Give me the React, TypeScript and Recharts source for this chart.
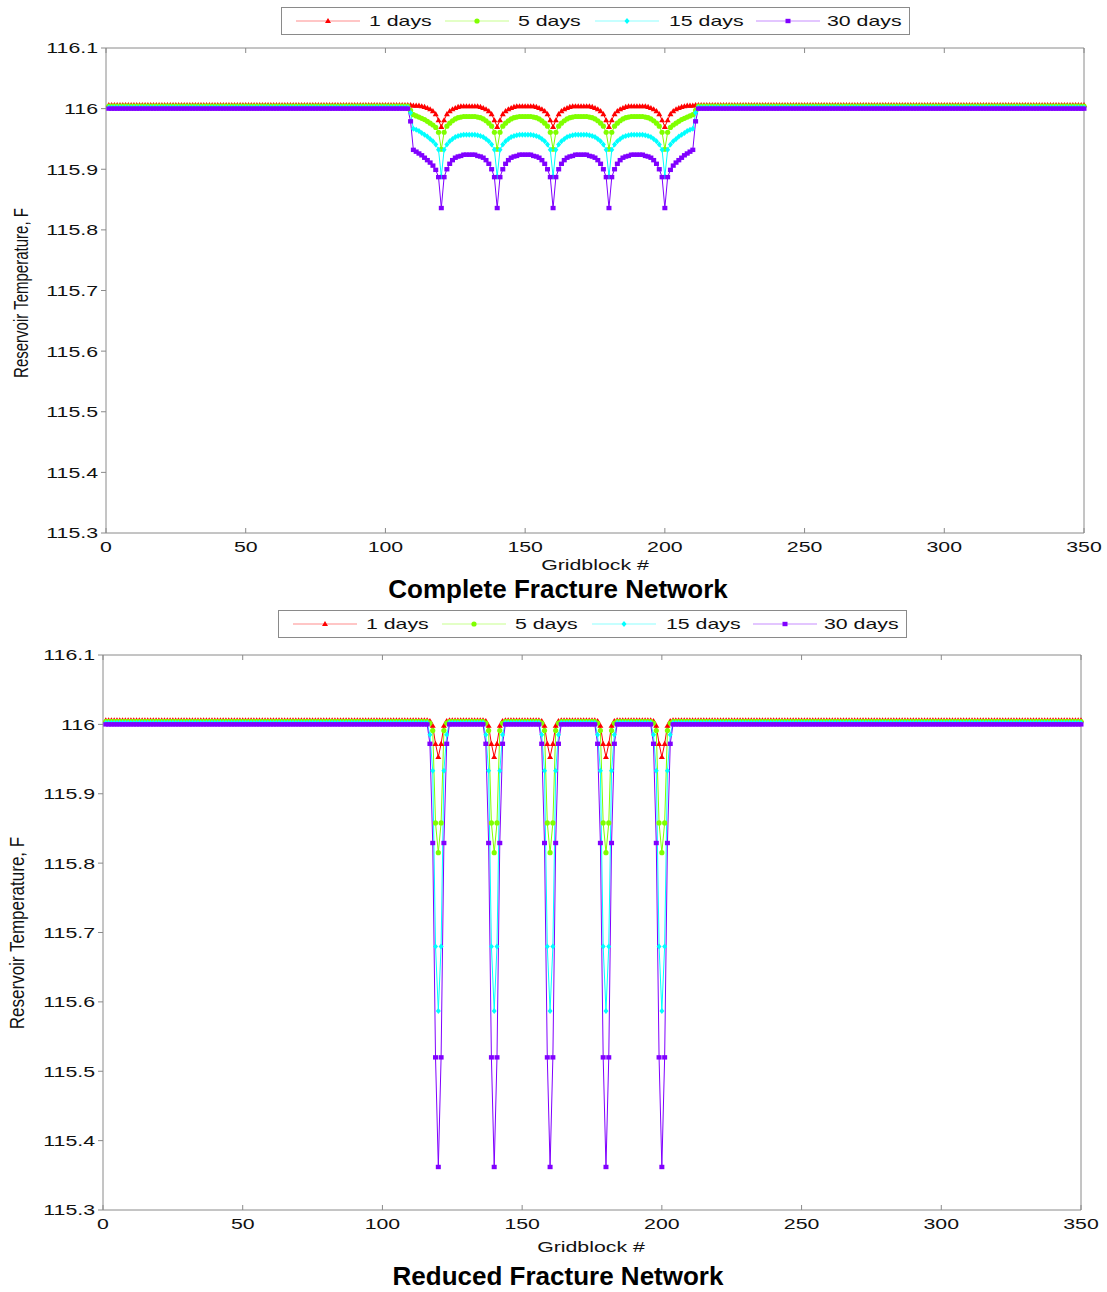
import React from 'react'
import { LineChart, Line, XAxis, YAxis } from 'recharts'

const FONT = '"Liberation Sans", Arial, Helvetica, sans-serif'
// the source figure was squeezed into the page, so its axis text looks wide
const STRETCH = 1.42

const GRIDBLOCKS = 350
const FRACTURES = [120, 140, 160, 180, 200]
const X_TICKS = [0, 50, 100, 150, 200, 250, 300, 350]
const Y_TICKS = [115.3, 115.4, 115.5, 115.6, 115.7, 115.8, 115.9, 116, 116.1]

const SERIES_KEYS = ['d1', 'd5', 'd15', 'd30']
const SERIES_NAMES = ['1 days', '5 days', '15 days', '30 days']

// undisturbed temperature of each curve (they sit a hair apart on the plot)
const PLATEAU = [116.006, 116.004, 116.002, 116.0]

// complete network: temperature vs distance to the nearest fracture, 0..10 blocks
const completeArch1 = [115.970, 115.981, 115.991, 115.996, 115.999, 116.001, 116.003, 116.004, 116.004, 116.004, 116.004]
const completeArch5 = [115.933, 115.961, 115.971, 115.976, 115.980, 115.983, 115.985, 115.986, 115.987, 115.987, 115.987]
const completeArch15 = [115.888, 115.932, 115.941, 115.946, 115.950, 115.953, 115.955, 115.956, 115.957, 115.957, 115.957]
const completeArch30 = [115.836, 115.887, 115.900, 115.909, 115.915, 115.919, 115.921, 115.922, 115.924, 115.924, 115.924]

// complete network: blocks 108..119 at the edge of the stimulated zone (mirrored on 212..201)
const completeEdge1 = [116.006, 116.006, 116.005, 116.005, 116.005, 116.004, 116.003, 116.001, 115.999, 115.996, 115.991, 115.981]
const completeEdge5 = [116.004, 115.997, 115.990, 115.988, 115.986, 115.984, 115.982, 115.979, 115.976, 115.973, 115.969, 115.961]
const completeEdge15 = [116.002, 115.993, 115.967, 115.965, 115.963, 115.960, 115.957, 115.954, 115.950, 115.946, 115.941, 115.932]
const completeEdge30 = [116.0, 115.979, 115.932, 115.929, 115.926, 115.923, 115.919, 115.915, 115.911, 115.906, 115.899, 115.887]

// reduced network: temperature vs distance to a fracture, 0..4 blocks
const reduced1 = [115.953, 115.972, 115.998, 116.005, 116.006]
const reduced5 = [115.815, 115.858, 115.991, 116.002, 116.004]
const reduced15 = [115.587, 115.680, 115.933, 115.985, 116.002]
const reduced30 = [115.362, 115.520, 115.829, 115.972, 116.0]

const COMPLETE_ARCH = [completeArch1, completeArch5, completeArch15, completeArch30]
const COMPLETE_EDGE = [completeEdge1, completeEdge5, completeEdge15, completeEdge30]
const REDUCED = [reduced1, reduced5, reduced15, reduced30]

const SERIES_STYLE = [
  { color: '#ff0000', shape: 'triangle' },
  { color: '#80ff00', shape: 'circle' },
  { color: '#00ffff', shape: 'diamond' },
  { color: '#8000ff', shape: 'square' },
]

const nearestFracture = (gb: number) => Math.min(...FRACTURES.map((f) => Math.abs(gb - f)))

function buildComplete() {
  const rows: any[] = []
  for (let gb = 1; gb <= GRIDBLOCKS; gb++) {
    const row: any = { gb }
    SERIES_KEYS.forEach((k, i) => {
      let v = PLATEAU[i]
      if (gb >= 108 && gb <= 119) v = COMPLETE_EDGE[i][gb - 108]
      else if (gb >= 201 && gb <= 212) v = COMPLETE_EDGE[i][212 - gb]
      else if (gb > 119 && gb < 201) v = COMPLETE_ARCH[i][nearestFracture(gb)]
      row[k] = v
    })
    rows.push(row)
  }
  return rows
}

function buildReduced() {
  const rows: any[] = []
  for (let gb = 1; gb <= GRIDBLOCKS; gb++) {
    const row: any = { gb }
    const d = nearestFracture(gb)
    SERIES_KEYS.forEach((k, i) => {
      row[k] = d < REDUCED[i].length ? REDUCED[i][d] : PLATEAU[i]
    })
    rows.push(row)
  }
  return rows
}

const completeData = buildComplete()
const reducedData = buildReduced()

function Marker({ shape, cx, cy, color }: { shape: string; cx: number; cy: number; color: string }) {
  if (shape === 'triangle')
    return <path d={`M${cx},${cy - 3}L${cx + 3},${cy + 2.1}L${cx - 3},${cy + 2.1}Z`} fill={color} />
  if (shape === 'circle') return <circle cx={cx} cy={cy} r={2.6} fill={color} />
  if (shape === 'diamond')
    return <path d={`M${cx},${cy - 3}L${cx + 2.5},${cy}L${cx},${cy + 3}L${cx - 2.5},${cy}Z`} fill={color} />
  return <rect x={cx - 2.5} y={cy - 2.2} width={5} height={4.4} fill={color} />
}

const dotFor = (i: number) => (p: any) => {
  const { cx, cy, index } = p
  if (cx == null || cy == null) return <g key={index} />
  return <Marker key={index} shape={SERIES_STYLE[i].shape} cx={cx} cy={cy} color={SERIES_STYLE[i].color} />
}

const fmt = (v: number) => String(v)

function YTick(props: any) {
  const { x, y, payload } = props
  return (
    <g transform={`translate(${x},${y}) scale(${STRETCH},1)`}>
      <text textAnchor="end" dy="0.36em" fontSize={15} fontFamily={FONT} fill="#111">
        {fmt(payload.value)}
      </text>
    </g>
  )
}

function XTick(props: any) {
  const { x, y, payload } = props
  return (
    <g transform={`translate(${x},${y}) scale(${STRETCH},1)`}>
      <text textAnchor="middle" dy="0.71em" fontSize={15} fontFamily={FONT} fill="#111">
        {payload.value}
      </text>
    </g>
  )
}

const NoTick = () => <g />

const AXIS = '#8a8a8a'

const LEGEND_SLOTS = [
  { line: 14, text: 87 },
  { line: 163, text: 236 },
  { line: 313, text: 387 },
  { line: 474, text: 545 },
]

function LegendBox({ left, top }: { left: number; top: number }) {
  return (
    <div
      style={{
        position: 'absolute',
        left,
        top,
        width: 629,
        height: 28,
        border: `1px solid ${AXIS}`,
        boxSizing: 'border-box',
        background: '#fff',
      }}
    >
      {SERIES_NAMES.map((name, i) => (
        <React.Fragment key={name}>
          <svg style={{ position: 'absolute', left: LEGEND_SLOTS[i].line, top: 0 }} width={64} height={26}>
            <line x1={0} x2={64} y1={13} y2={13} stroke={SERIES_STYLE[i].color} strokeOpacity={0.45} />
            <Marker shape={SERIES_STYLE[i].shape} cx={32} cy={13} color={SERIES_STYLE[i].color} />
          </svg>
          <span
            style={{
              position: 'absolute',
              left: LEGEND_SLOTS[i].text,
              top: 0,
              lineHeight: '26px',
              fontSize: 15,
              fontFamily: FONT,
              color: '#111',
              whiteSpace: 'nowrap',
              transform: `scaleX(${STRETCH})`,
              transformOrigin: '0 50%',
            }}
          >
            {name}
          </span>
        </React.Fragment>
      ))}
    </div>
  )
}

interface PanelProps {
  data: any[]
  top: number
  height: number
  plotLeft: number
  plotRight: number
  plotTop: number
  plotBottom: number
  legend: { left: number; top: number }
  xLabel: { x: number; y: number }
  yLabel: { x: number; y: number; size: number; stretch: number }
  title: { x: number; y: number; text: string }
}

function Panel({ data, top, height, plotLeft, plotRight, plotTop, plotBottom, legend, xLabel, yLabel, title }: PanelProps) {
  const yAxisW = 60
  const xAxisH = 40
  return (
    <>
      <div style={{ position: 'absolute', left: 0, top }}>
        <LineChart
          width={1107}
          height={height}
          data={data}
          margin={{
            top: plotTop - 1,
            right: 1107 - plotRight - 1,
            bottom: height - plotBottom - xAxisH,
            left: plotLeft - yAxisW,
          }}
        >
          <XAxis
            dataKey="gb"
            type="number"
            domain={[0, 350]}
            ticks={X_TICKS}
            height={xAxisH}
            axisLine={{ stroke: AXIS }}
            tickLine={{ stroke: AXIS }}
            tickSize={-5}
            tickMargin={13}
            tick={<XTick />}
            interval={0}
          />
          <XAxis
            xAxisId="top"
            dataKey="gb"
            orientation="top"
            type="number"
            domain={[0, 350]}
            ticks={X_TICKS}
            height={1}
            axisLine={{ stroke: AXIS }}
            tickLine={{ stroke: AXIS }}
            tickSize={-5}
            tick={NoTick}
            interval={0}
          />
          <YAxis
            type="number"
            domain={[115.3, 116.1]}
            ticks={Y_TICKS}
            width={yAxisW}
            axisLine={{ stroke: AXIS }}
            tickLine={{ stroke: AXIS }}
            tickSize={5}
            tickMargin={3}
            tick={<YTick />}
            interval={0}
          />
          <YAxis
            yAxisId="right"
            orientation="right"
            type="number"
            domain={[115.3, 116.1]}
            ticks={Y_TICKS}
            width={1}
            axisLine={{ stroke: AXIS }}
            tickLine={{ stroke: AXIS }}
            tickSize={-5}
            tick={NoTick}
            interval={0}
          />
          {SERIES_KEYS.map((k, i) => (
            <Line
              key={k}
              dataKey={k}
              name={SERIES_NAMES[i]}
              type="linear"
              stroke={SERIES_STYLE[i].color}
              strokeWidth={1}
              dot={dotFor(i)}
              activeDot={false}
              isAnimationActive={false}
            />
          ))}
        </LineChart>
      </div>
      <LegendBox left={legend.left} top={legend.top} />
      <div
        style={{
          position: 'absolute',
          left: xLabel.x - 100,
          top: xLabel.y - 10,
          width: 200,
          lineHeight: '20px',
          textAlign: 'center',
          fontSize: 15,
          fontFamily: FONT,
          color: '#111',
          transform: `scaleX(${STRETCH})`,
        }}
      >
        Gridblock #
      </div>
      <div
        style={{
          position: 'absolute',
          left: yLabel.x - 150,
          top: yLabel.y - 10,
          width: 300,
          lineHeight: '20px',
          textAlign: 'center',
          fontSize: yLabel.size,
          fontFamily: FONT,
          color: '#111',
          transform: `rotate(-90deg) scale(1, ${yLabel.stretch})`,
        }}
      >
        Reservoir Temperature, F
      </div>
      <div
        style={{
          position: 'absolute',
          left: title.x - 300,
          top: title.y - 16,
          width: 600,
          lineHeight: '32px',
          textAlign: 'center',
          fontSize: 26,
          fontWeight: 'bold',
          fontFamily: FONT,
          color: '#000',
        }}
      >
        {title.text}
      </div>
    </>
  )
}

export default function App() {
  return (
    <div style={{ position: 'absolute', left: 0, top: 0, width: 1107, height: 1292, background: '#fff' }}>
      <Panel
        data={completeData}
        top={0}
        height={580}
        plotLeft={106}
        plotRight={1084}
        plotTop={48}
        plotBottom={533}
        legend={{ left: 281, top: 7 }}
        xLabel={{ x: 595, y: 565 }}
        yLabel={{ x: 21, y: 293, size: 15, stretch: 1.3 }}
        title={{ x: 558, y: 589, text: 'Complete Fracture Network' }}
      />
      <Panel
        data={reducedData}
        top={600}
        height={660}
        plotLeft={103}
        plotRight={1081}
        plotTop={55}
        plotBottom={610}
        legend={{ left: 278, top: 610 }}
        xLabel={{ x: 591, y: 1247 }}
        yLabel={{ x: 18, y: 933, size: 17, stretch: 1.2 }}
        title={{ x: 558, y: 1276, text: 'Reduced Fracture Network' }}
      />
    </div>
  )
}
